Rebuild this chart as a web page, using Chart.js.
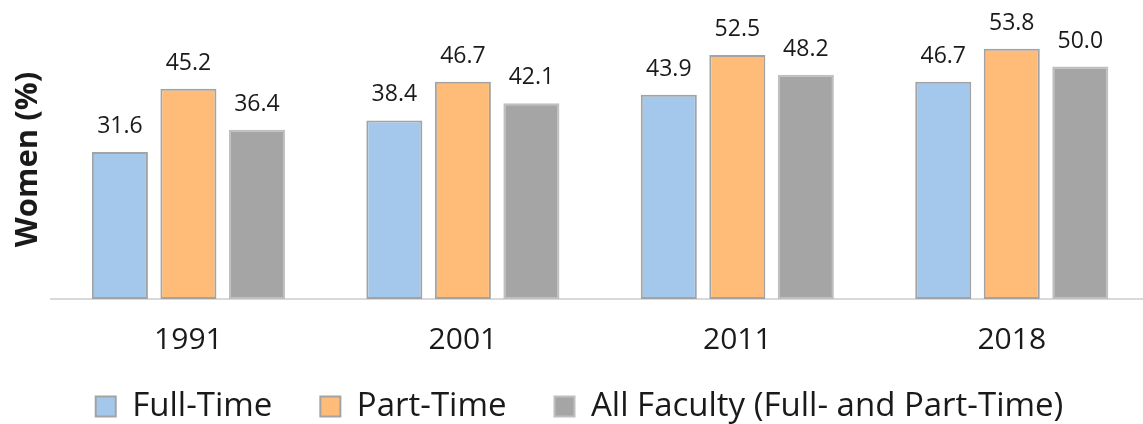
<!DOCTYPE html>
<html>
<head>
<meta charset="utf-8">
<script src="https://cdn.jsdelivr.net/npm/chart.js@4/dist/chart.umd.min.js"></script>
<style>
  html, body { margin: 0; padding: 0; background: #ffffff; overflow: hidden; }
  #wrap { width: 1160px; height: 424px; }
</style>
</head>
<body>
<div id="wrap"><canvas id="c" width="1160" height="424"></canvas></div>
<script>
const categories = ['1991', '2001', '2011', '2018'];
const fullTime = [31.6, 38.4, 43.9, 46.7];
const partTime = [45.2, 46.7, 52.5, 53.8];
const allFaculty = [36.4, 42.1, 48.2, 50.0];
const seriesNames = ['Full-Time', 'Part-Time', 'All Faculty (Full- and Part-Time)'];
const yTitle = 'Women (%)';

const FONT = "'Open Sans', 'Liberation Sans', sans-serif";
const TEXT = '#1a1a1a';

const dataLabels = {
  id: 'dataLabels',
  afterDatasetsDraw(chart) {
    const ctx = chart.ctx;
    ctx.save();
    ctx.font = '23px ' + FONT;
    ctx.fillStyle = TEXT;
    ctx.textAlign = 'center';
    ctx.textBaseline = 'alphabetic';
    chart.data.datasets.forEach((ds, i) => {
      const meta = chart.getDatasetMeta(i);
      meta.data.forEach((bar, j) => {
        ctx.fillText(Number(ds.data[j]).toFixed(1), bar.x, bar.y - 19);
      });
    });
    ctx.restore();
  }
};

const legendPlace = {
  id: 'legendPlace',
  afterLayout(chart) {
    const lg = chart.legend;
    if (!lg) return;
    lg.top = 342;
    lg.bottom = 430;
    lg.height = 88;
  }
};

new Chart(document.getElementById('c'), {
  type: 'bar',
  data: {
    labels: categories,
    datasets: [
      { label: seriesNames[0], data: fullTime, backgroundColor: '#A4C8EC', borderColor: '#A3A3A3', borderWidth: 2, borderSkipped: false },
      { label: seriesNames[1], data: partTime, backgroundColor: '#FFBB78', borderColor: '#A3A3A3', borderWidth: 2, borderSkipped: false },
      { label: seriesNames[2], data: allFaculty, backgroundColor: '#A5A5A5', borderColor: '#BFBFBF', borderWidth: 2, borderSkipped: false }
    ]
  },
  options: {
    responsive: false,
    animation: false,
    events: [],
    layout: { padding: { top: 20, bottom: -24, left: 10, right: 11 } },
    datasets: { bar: { categoryPercentage: 0.749, barPercentage: 0.818 } },
    scales: {
      x: {
        grid: { display: false, drawTicks: false },
        border: { display: true, color: '#D9D9D9', width: 2 },
        ticks: { font: { family: FONT, size: 30 }, color: TEXT, padding: 23 }
      },
      y: {
        min: 0, max: 60,
        grid: { display: false, drawTicks: false },
        border: { display: false },
        ticks: { display: false },
        title: { display: true, text: yTitle, color: TEXT, font: { family: FONT, size: 31, weight: 'bold' }, padding: { top: 0, bottom: 4 } }
      }
    },
    plugins: {
      tooltip: { enabled: false },
      legend: {
        position: 'bottom',
        maxHeight: 67,
        labels: {
          boxWidth: 20, boxHeight: 20, padding: 48,
          color: TEXT,
          font: { family: FONT, size: 33 }
        }
      }
    }
  },
  plugins: [dataLabels, legendPlace]
});
</script>
</body>
</html>
